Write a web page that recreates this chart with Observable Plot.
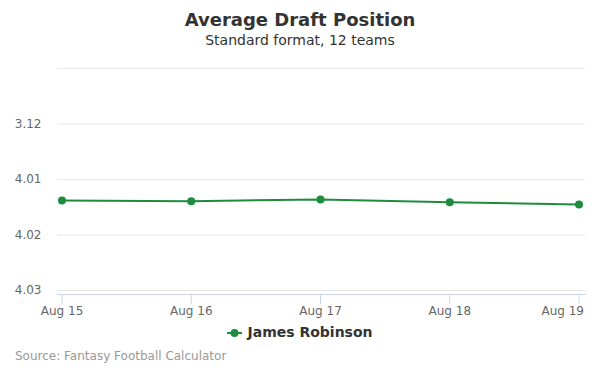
<!DOCTYPE html>
<html>
<head>
<meta charset="utf-8">
<script src="https://cdn.jsdelivr.net/npm/d3@7"></script>
<script src="https://cdn.jsdelivr.net/npm/@observablehq/plot@0.6"></script>
<style>
  body { margin: 0; background: #fff; font-family: "DejaVu Sans", sans-serif; }
  #wrap { position: relative; width: 600px; height: 375px; overflow: hidden; }
  #wrap > svg { position: absolute; left: 0; top: 0; }
  .t { position: absolute; white-space: nowrap; }
  #title { top: 9px; left: 0; width: 600px; text-align: center; font-size: 18px; font-weight: bold; color: #333; }
  #subtitle { top: 32px; left: 0; width: 600px; text-align: center; font-size: 14px; color: #333; }
  #legend { top: 324px; left: 0; width: 600px; text-align: center; font-size: 14px; font-weight: bold; color: #333; }
  #legend svg { vertical-align: -1px; margin-right: 5px; }
  #source { top: 349px; left: 15px; font-size: 12px; color: #999; }
</style>
</head>
<body>
<div id="wrap">
  <div id="title" class="t">Average Draft Position</div>
  <div id="subtitle" class="t">Standard format, 12 teams</div>
  <div id="legend" class="t"><svg width="15" height="10"><line x1="0" y1="5" x2="15" y2="5" stroke="#1e8c3e" stroke-width="2"></line><circle cx="7.5" cy="5" r="4" fill="#1e8c3e"></circle></svg>James Robinson</div>
  <div id="source" class="t">Source: Fantasy Football Calculator</div>
</div>
<script>
const dates = ["2019-08-15", "2019-08-16", "2019-08-17", "2019-08-18", "2019-08-19"];
const dateLabels = ["Aug 15", "Aug 16", "Aug 17", "Aug 18", "Aug 19"];
const adpPicks = [37.38, 37.39, 37.36, 37.41, 37.45];
const gridPicks = [35, 36, 37, 38, 39];
const labelPicks = [36, 37, 38, 39];
const teams = 12;

const fmt = p => {
  const r = Math.ceil(p / teams);
  const n = p - (r - 1) * teams;
  return `${r}.${String(n).padStart(2, "0")}`;
};

const data = dates.map((d, i) => ({date: new Date(d + "T00:00:00Z"), pick: adpPicks[i], label: dateLabels[i]}));
const green = "#1e8c3e";
const yBottom = 39.072;
const tickLen = 0.18;

const chart = Plot.plot({
  width: 600,
  height: 375,
  marginTop: 68,
  marginBottom: 81,
  marginLeft: 57,
  marginRight: 15,
  style: {fontFamily: "DejaVu Sans, sans-serif", background: "transparent"},
  x: {type: "utc", domain: [data[0].date, data[data.length - 1].date], insetLeft: 4.5, insetRight: 6.5, axis: null},
  y: {domain: [yBottom, 35], axis: null},
  marks: [
    Plot.ruleY(gridPicks, {stroke: "#e6e6e6", strokeWidth: 1}),
    Plot.frame({anchor: "bottom", stroke: "#ccd6eb", strokeWidth: 1}),
    Plot.ruleX(data, {x: "date", y1: yBottom, y2: yBottom + tickLen, stroke: "#ccd6eb", strokeWidth: 1}),
    Plot.text(labelPicks, {y: d => d, frameAnchor: "left", dx: -16, textAnchor: "end", text: fmt, fill: "#666", fontSize: 12}),
    Plot.text(data.slice(0, -1), {x: "date", frameAnchor: "bottom", dy: 20, text: "label", fill: "#666", fontSize: 12}),
    Plot.text(data.slice(-1), {x: "date", frameAnchor: "bottom", dy: 20, dx: 5, textAnchor: "end", text: "label", fill: "#666", fontSize: 12}),
    Plot.line(data, {x: "date", y: "pick", stroke: green, strokeWidth: 2}),
    Plot.dot(data, {x: "date", y: "pick", r: 4, fill: green, stroke: "none"})
  ]
});
document.getElementById("wrap").prepend(chart);
</script>
</body>
</html>
